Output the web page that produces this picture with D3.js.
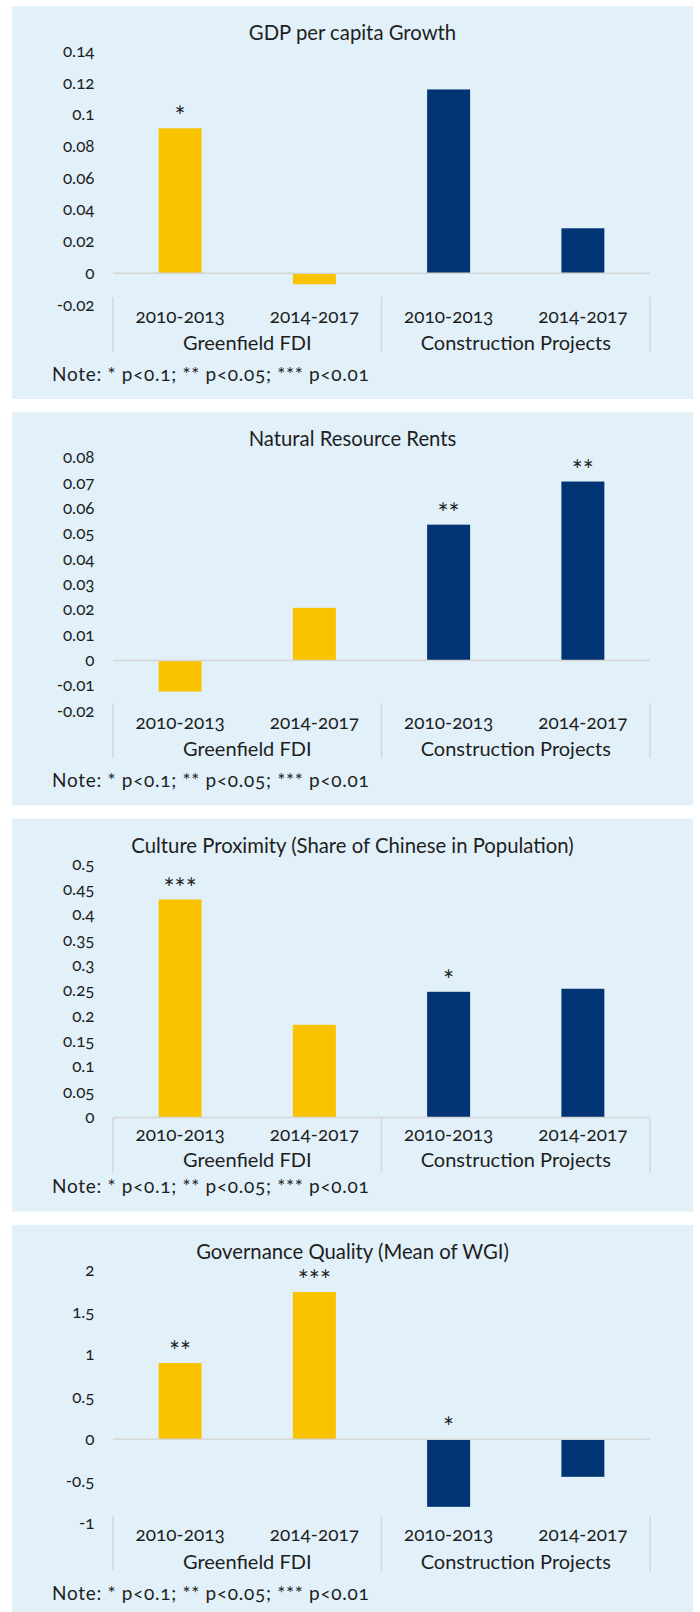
<!DOCTYPE html>
<html>
<head>
<meta charset="utf-8">
<script src="https://cdn.jsdelivr.net/npm/d3@7"></script>
<style>
  body { margin: 0; background: #fff; }
  svg text { font-family: Lato, "Open Sans", sans-serif; fill: #1e1e1e; font-variant-numeric: oldstyle-nums; }
</style>
</head>
<body>
<svg id="chart" width="700" height="1612"></svg>
<script>
// categories shared by all four panels
const periods = ['2010-2013', '2014-2017', '2010-2013', '2014-2017'];
const groups = ['Greenfield FDI', 'Construction Projects'];
const noteText = 'Note: * p<0.1; ** p<0.05; *** p<0.01';

// panel 1
const gdpValues = [0.0915, -0.0069, 0.116, 0.0284];
const gdpSig = ['*', '', '', ''];
const gdpTicks = [-0.02, 0, 0.02, 0.04, 0.06, 0.08, 0.1, 0.12, 0.14];

// panel 2
const rentValues = [-0.0122, 0.0208, 0.0536, 0.0706];
const rentSig = ['', '', '**', '**'];
const rentTicks = [-0.02, -0.01, 0, 0.01, 0.02, 0.03, 0.04, 0.05, 0.06, 0.07, 0.08];

// panel 3
const cultureValues = [0.430, 0.183, 0.248, 0.254];
const cultureSig = ['***', '', '*', ''];
const cultureTicks = [0, 0.05, 0.1, 0.15, 0.2, 0.25, 0.3, 0.35, 0.4, 0.45, 0.5];

// panel 4
const govValues = [0.903, 1.743, -0.798, -0.443];
const govSig = ['**', '***', '*', ''];
const govTicks = [-1, -0.5, 0, 0.5, 1, 1.5, 2];

const panels = [
  { title: 'GDP per capita Growth', values: gdpValues, sig: gdpSig, ticks: gdpTicks },
  { title: 'Natural Resource Rents', values: rentValues, sig: rentSig, ticks: rentTicks },
  { title: 'Culture Proximity (Share of Chinese in Population)', values: cultureValues, sig: cultureSig, ticks: cultureTicks },
  { title: 'Governance Quality (Mean of WGI)', values: govValues, sig: govSig, ticks: govTicks },
];

const COLORS = { fdi: '#F9C300', cons: '#013473', bg: '#E1F0F9', line: '#D6D6D6' };

const svg = d3.select('#chart');
const panelX0 = 12, panelX1 = 693, panelH = 393, panelStep = 406.3, firstTop = 6;
const plotL = 113, plotR = 650;

const x = d3.scaleBand().domain(d3.range(periods.length)).range([plotL, plotR])
  .paddingInner(0.68).paddingOuter(0.34);
const step = x.step();
const fmt = v => String(+v.toFixed(4));

panels.forEach((p, i) => {
  const T = firstTop + i * panelStep;
  const g = svg.append('g');
  const h = i === panels.length - 1 ? 1612 - T : panelH;

  g.append('rect').attr('x', panelX0).attr('y', T).attr('width', panelX1 - panelX0).attr('height', h)
    .attr('fill', COLORS.bg);

  g.append('text').attr('x', (panelX0 + panelX1) / 2).attr('y', T + 34)
    .attr('text-anchor', 'middle').style('font-size', '20.3px').text(p.title);

  const y = d3.scaleLinear().domain(d3.extent(p.ticks)).range([T + 299, T + 45.4]);
  const hasNeg = y.domain()[0] < 0;

  // y tick labels
  g.selectAll('.tick').data(p.ticks).enter().append('text')
    .attr('x', 94.5).attr('y', d => y(d) + 5.5)
    .attr('text-anchor', 'end').style('font-size', '17px').text(fmt);

  // bars
  g.selectAll('.bar').data(p.values).enter().append('rect')
    .attr('x', (d, j) => x(j))
    .attr('width', x.bandwidth())
    .attr('y', d => y(Math.max(0, d)))
    .attr('height', d => Math.abs(y(d) - y(0)))
    .attr('fill', (d, j) => j < 2 ? COLORS.fdi : COLORS.cons);

  // zero line
  g.append('line').attr('x1', plotL).attr('x2', plotR).attr('y1', y(0)).attr('y2', y(0))
    .attr('stroke', COLORS.line).attr('stroke-width', 1.5);

  // significance stars
  g.selectAll('.sig').data(p.sig).enter().append('text')
    .attr('x', (d, j) => x(j) + x.bandwidth() / 2)
    .attr('y', (d, j) => y(Math.max(0, p.values[j])) - 2)
    .attr('text-anchor', 'middle').style('font-size', '26px').text(d => d);

  // category axis, multi-level
  const L = hasNeg ? y.range()[0] - 8 : y.range()[0];
  const catY = hasNeg ? L + 25.5 : L + 23;
  const grpY = hasNeg ? L + 53 : L + 49;
  [plotL, plotL + 2 * step, plotR].forEach(sx => {
    g.append('line').attr('x1', sx).attr('x2', sx).attr('y1', L).attr('y2', L + 55)
      .attr('stroke', COLORS.line).attr('stroke-width', 1.5);
  });
  g.selectAll('.cat').data(periods).enter().append('text')
    .attr('x', (d, j) => x(j) + x.bandwidth() / 2).attr('y', catY)
    .attr('text-anchor', 'middle').style('font-size', '19px').text(d => d);
  g.selectAll('.grp').data(groups).enter().append('text')
    .attr('x', (d, j) => plotL + step * (2 * j + 1)).attr('y', grpY)
    .attr('text-anchor', 'middle').style('font-size', '20px').text(d => d);

  g.append('text').attr('x', 52).attr('y', T + 374.7)
    .style('font-size', '19px').style('letter-spacing', '0.7px').text(noteText);
});
</script>
</body>
</html>
